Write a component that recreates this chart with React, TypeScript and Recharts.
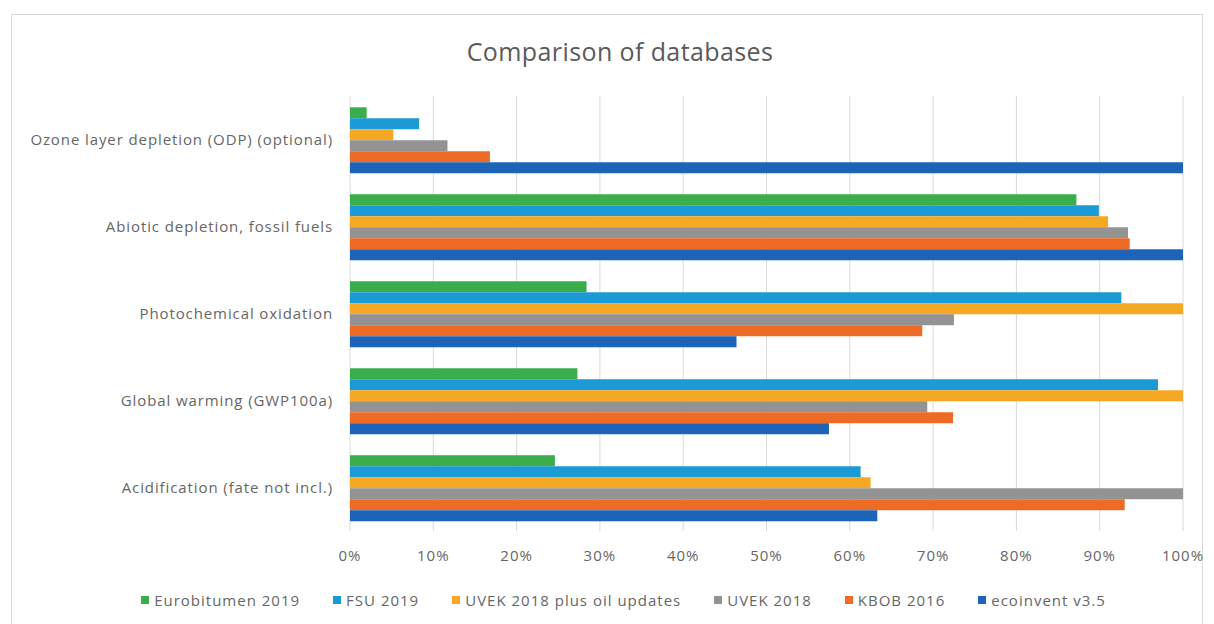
import React from 'react';
import { BarChart, Bar, XAxis, YAxis, CartesianGrid, Legend } from 'recharts';

// Impact categories, top to bottom
const categories = [
  'Ozone layer depletion (ODP) (optional)',
  'Abiotic depletion, fossil fuels',
  'Photochemical oxidation',
  'Global warming (GWP100a)',
  'Acidification (fate not incl.)',
];

// Relative results per database (share of the maximum), same order as categories
const eurobitumen2019 = [0.02, 0.872, 0.284, 0.273, 0.246];
const fsu2019 = [0.083, 0.899, 0.926, 0.97, 0.613];
const uvek2018Oil = [0.052, 0.91, 1.0, 1.0, 0.625];
const uvek2018 = [0.117, 0.934, 0.725, 0.693, 1.0];
const kbob2016 = [0.168, 0.936, 0.687, 0.724, 0.93];
const ecoinvent35 = [1.0, 1.0, 0.464, 0.575, 0.633];

const xTicks = [0, 0.1, 0.2, 0.3, 0.4, 0.5, 0.6, 0.7, 0.8, 0.9, 1.0];

const series = [
  { key: 'eurobitumen', name: 'Eurobitumen 2019', color: '#3AAE4A', values: eurobitumen2019 },
  { key: 'fsu', name: 'FSU 2019', color: '#1C9AD6', values: fsu2019 },
  { key: 'uvekOil', name: 'UVEK 2018 plus oil updates', color: '#F4A824', values: uvek2018Oil },
  { key: 'uvek', name: 'UVEK 2018', color: '#939393', values: uvek2018 },
  { key: 'kbob', name: 'KBOB 2016', color: '#EE6B25', values: kbob2016 },
  { key: 'ecoinvent', name: 'ecoinvent v3.5', color: '#1D64B8', values: ecoinvent35 },
];

const data = categories.map((name, i) => {
  const row: Record<string, string | number> = { name };
  series.forEach((s) => {
    row[s.key] = s.values[i];
  });
  return row;
});

const FONT = '"Open Sans", "Liberation Sans", sans-serif';
const TEXT = '#666666';

const LegendContent = () => (
  <div
    style={{
      display: 'flex',
      justifyContent: 'center',
      alignItems: 'center',
      gap: 33,
      height: 24,
      paddingLeft: 64,
      fontFamily: FONT,
      fontSize: 15,
      letterSpacing: 1,
      color: TEXT,
    }}
  >
    {series.map((s) => (
      <div key={s.key} style={{ display: 'flex', alignItems: 'center' }}>
        <span style={{ width: 8, height: 8, background: s.color, display: 'inline-block', marginRight: 5 }} />
        <span>{s.name}</span>
      </div>
    ))}
  </div>
);

export default function App() {
  return (
    <div style={{ position: 'absolute', left: 0, top: 0, width: 1214, height: 624, background: '#fff' }}>
      <div
        style={{
          position: 'absolute',
          left: 11,
          top: 14,
          width: 1192,
          height: 620,
          border: '1px solid #d9d9d9',
          boxSizing: 'border-box',
        }}
      />
      <div
        style={{
          position: 'absolute',
          left: 0,
          width: 1240,
          top: 34,
          textAlign: 'center',
          fontFamily: FONT,
          fontSize: 25,
          letterSpacing: 0.4,
          color: '#5a5a5a',
        }}
      >
        Comparison of databases
      </div>
      <div style={{ position: 'absolute', left: 0, top: 0 }}>
        <BarChart
          width={1214}
          height={624}
          data={data}
          layout="vertical"
          margin={{ top: 96, right: 31, left: 0, bottom: 12 }}
          barCategoryGap="13%"
          barGap={0}
        >
          <CartesianGrid horizontal={false} stroke="#d9d9d9" />
          <XAxis
            type="number"
            domain={[0, 1]}
            ticks={xTicks}
            tickFormatter={(v: number) => `${Math.round(v * 100)}%`}
            axisLine={false}
            tickLine={false}
            tickMargin={13}
            height={57}
            tick={{ fontFamily: FONT, fontSize: 15, letterSpacing: 1, fill: TEXT }}
          />
          <YAxis
            type="category"
            dataKey="name"
            width={350}
            axisLine={false}
            tickLine={false}
            tickMargin={11}
            tick={{ fontFamily: FONT, fontSize: 15, letterSpacing: 0.9, fill: TEXT }}
          />
          <Legend verticalAlign="bottom" content={<LegendContent />} />
          {series.map((s) => (
            <Bar key={s.key} dataKey={s.key} name={s.name} fill={s.color} isAnimationActive={false} />
          ))}
        </BarChart>
      </div>
    </div>
  );
}
